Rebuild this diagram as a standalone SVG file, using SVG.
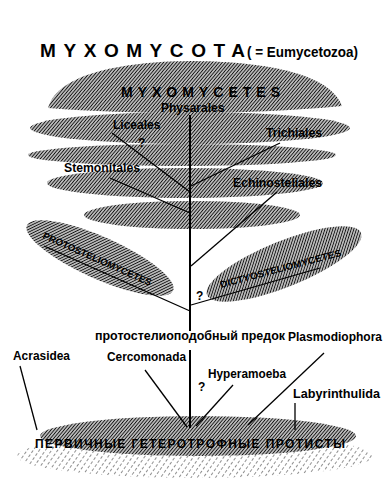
<svg xmlns="http://www.w3.org/2000/svg" width="385" height="478" viewBox="0 0 385 478">
<style>
text{font-family:"Liberation Sans",Arial,sans-serif;font-weight:bold;fill:#000}
.lbl{font-size:12px}
.ln{stroke:#000;stroke-width:1.3;fill:none}
.trunk{stroke:#000;stroke-width:2;fill:none}
.h{fill:url(#hatch)}
.hs{fill:url(#hatchSparse)}
</style>
<defs>
<pattern id="hatch" width="2.5" height="2.5" patternUnits="userSpaceOnUse" patternTransform="rotate(40)">
<rect width="2.5" height="2.5" fill="#b8b8b8"/>
<line x1="0" y1="0" x2="0" y2="2.5" stroke="#000" stroke-width="1.5"/>
</pattern>
<pattern id="hatchSparse" width="5" height="5" patternUnits="userSpaceOnUse" patternTransform="rotate(35)">
<line x1="0" y1="0" x2="0" y2="3" stroke="#222" stroke-width="1"/>
</pattern>
</defs>
<rect width="385" height="478" fill="#fff"/>

<g id="title">
<text x="40" y="57" font-size="19" textLength="205" lengthAdjust="spacing">MYXOMYCOTA</text>
<text x="247" y="57" font-size="14" textLength="111" lengthAdjust="spacingAndGlyphs">( = Eumycetozoa)</text>
</g>

<g id="myxomycetes">
<path class="h" d="M48,108 C58,72 128,61 195,61 C268,62 330,74 342,106 C250,115 140,115 48,108Z"/>
<ellipse class="h" cx="190" cy="128" rx="160" ry="16"/>
<ellipse class="h" cx="182" cy="155" rx="154" ry="11"/>
<ellipse class="h" cx="185" cy="183" rx="138" ry="15"/>
<ellipse class="h" cx="192" cy="215" rx="108" ry="14"/>
<text x="121" y="97" font-size="14" textLength="159" lengthAdjust="spacing">MYXOMYCETES</text>
</g>

<g id="protosteliomycetes">
<ellipse class="h" cx="100" cy="258" rx="80" ry="21" transform="rotate(24 100 258)"/>
<text x="42" y="238" font-size="9.5" textLength="118" lengthAdjust="spacingAndGlyphs" transform="rotate(24 42 238)">PROTOSTELIOMYCETES</text>
</g>

<g id="dictyosteliomycetes">
<ellipse class="h" cx="284" cy="264" rx="83" ry="23" transform="rotate(-22 284 264)"/>
<text x="221" y="288" font-size="9.5" textLength="125" lengthAdjust="spacingAndGlyphs" transform="rotate(-15 221 288)">DICTYOSTELIOMYCETES</text>
</g>

<g id="protists">
<ellipse class="hs" cx="195" cy="456" rx="178" ry="22"/>
<ellipse class="h" cx="198" cy="436" rx="158" ry="20"/>
<text x="35" y="448" font-size="12" textLength="310" lengthAdjust="spacing">ПЕРВИЧНЫЕ ГЕТЕРОТРОФНЫЕ ПРОТИСТЫ</text>
</g>

<g id="connectors">
<line class="trunk" x1="190" y1="115" x2="190" y2="331"/>
<line class="trunk" x1="190" y1="350" x2="190" y2="428"/>
<line class="ln" x1="112" y1="133" x2="190" y2="192"/>
<line class="ln" x1="280" y1="143" x2="191" y2="186"/>
<line class="ln" x1="110" y1="178" x2="190" y2="213"/>
<line class="ln" x1="277" y1="192" x2="191" y2="266"/>
<line class="ln" x1="44" y1="246" x2="190" y2="311"/>
<line class="ln" x1="191" y1="305" x2="320" y2="268"/>
<line class="ln" x1="20" y1="366" x2="37" y2="430"/>
<line class="ln" x1="145" y1="370" x2="187" y2="427"/>
<line class="ln" x1="233" y1="385" x2="196" y2="426"/>
<line class="ln" x1="324" y1="353" x2="248" y2="425"/>
<line class="ln" x1="295" y1="403" x2="295" y2="430"/>
</g>

<g id="physarales"><text class="lbl" x="161" y="112" font-size="11">Physarales</text></g>
<g id="liceales"><text class="lbl" x="113" y="129" font-size="11">Liceales</text>
<text class="lbl" x="138" y="147" font-size="11">?</text></g>
<g id="trichiales"><text class="lbl" x="266" y="137" textLength="56" lengthAdjust="spacingAndGlyphs">Trichiales</text></g>
<g id="stemonitales"><text class="lbl" x="64" y="172" textLength="76" lengthAdjust="spacingAndGlyphs">Stemonitales</text></g>
<g id="echinosteliales"><text class="lbl" x="233" y="187" textLength="89" lengthAdjust="spacingAndGlyphs">Echinosteliales</text></g>
<g id="q-dictyo"><text class="lbl" x="196" y="300">?</text></g>
<g id="ancestor"><text class="lbl" x="95" y="340" textLength="190" lengthAdjust="spacingAndGlyphs">протостелиоподобный предок</text></g>
<g id="plasmodiophora"><text class="lbl" x="288" y="341" textLength="94" lengthAdjust="spacingAndGlyphs">Plasmodiophora</text></g>
<g id="acrasidea"><text class="lbl" x="13" y="360" textLength="57" lengthAdjust="spacingAndGlyphs">Acrasidea</text></g>
<g id="cercomonada"><text class="lbl" x="107" y="361" textLength="79" lengthAdjust="spacingAndGlyphs">Cercomonada</text></g>
<g id="hyperamoeba"><text class="lbl" x="208" y="378" textLength="78" lengthAdjust="spacingAndGlyphs">Hyperamoeba</text></g>
<g id="q-ancestor"><text class="lbl" x="198" y="391">?</text></g>
<g id="labyrinthulida"><text class="lbl" x="293" y="398" textLength="87" lengthAdjust="spacingAndGlyphs">Labyrinthulida</text></g>
</svg>
